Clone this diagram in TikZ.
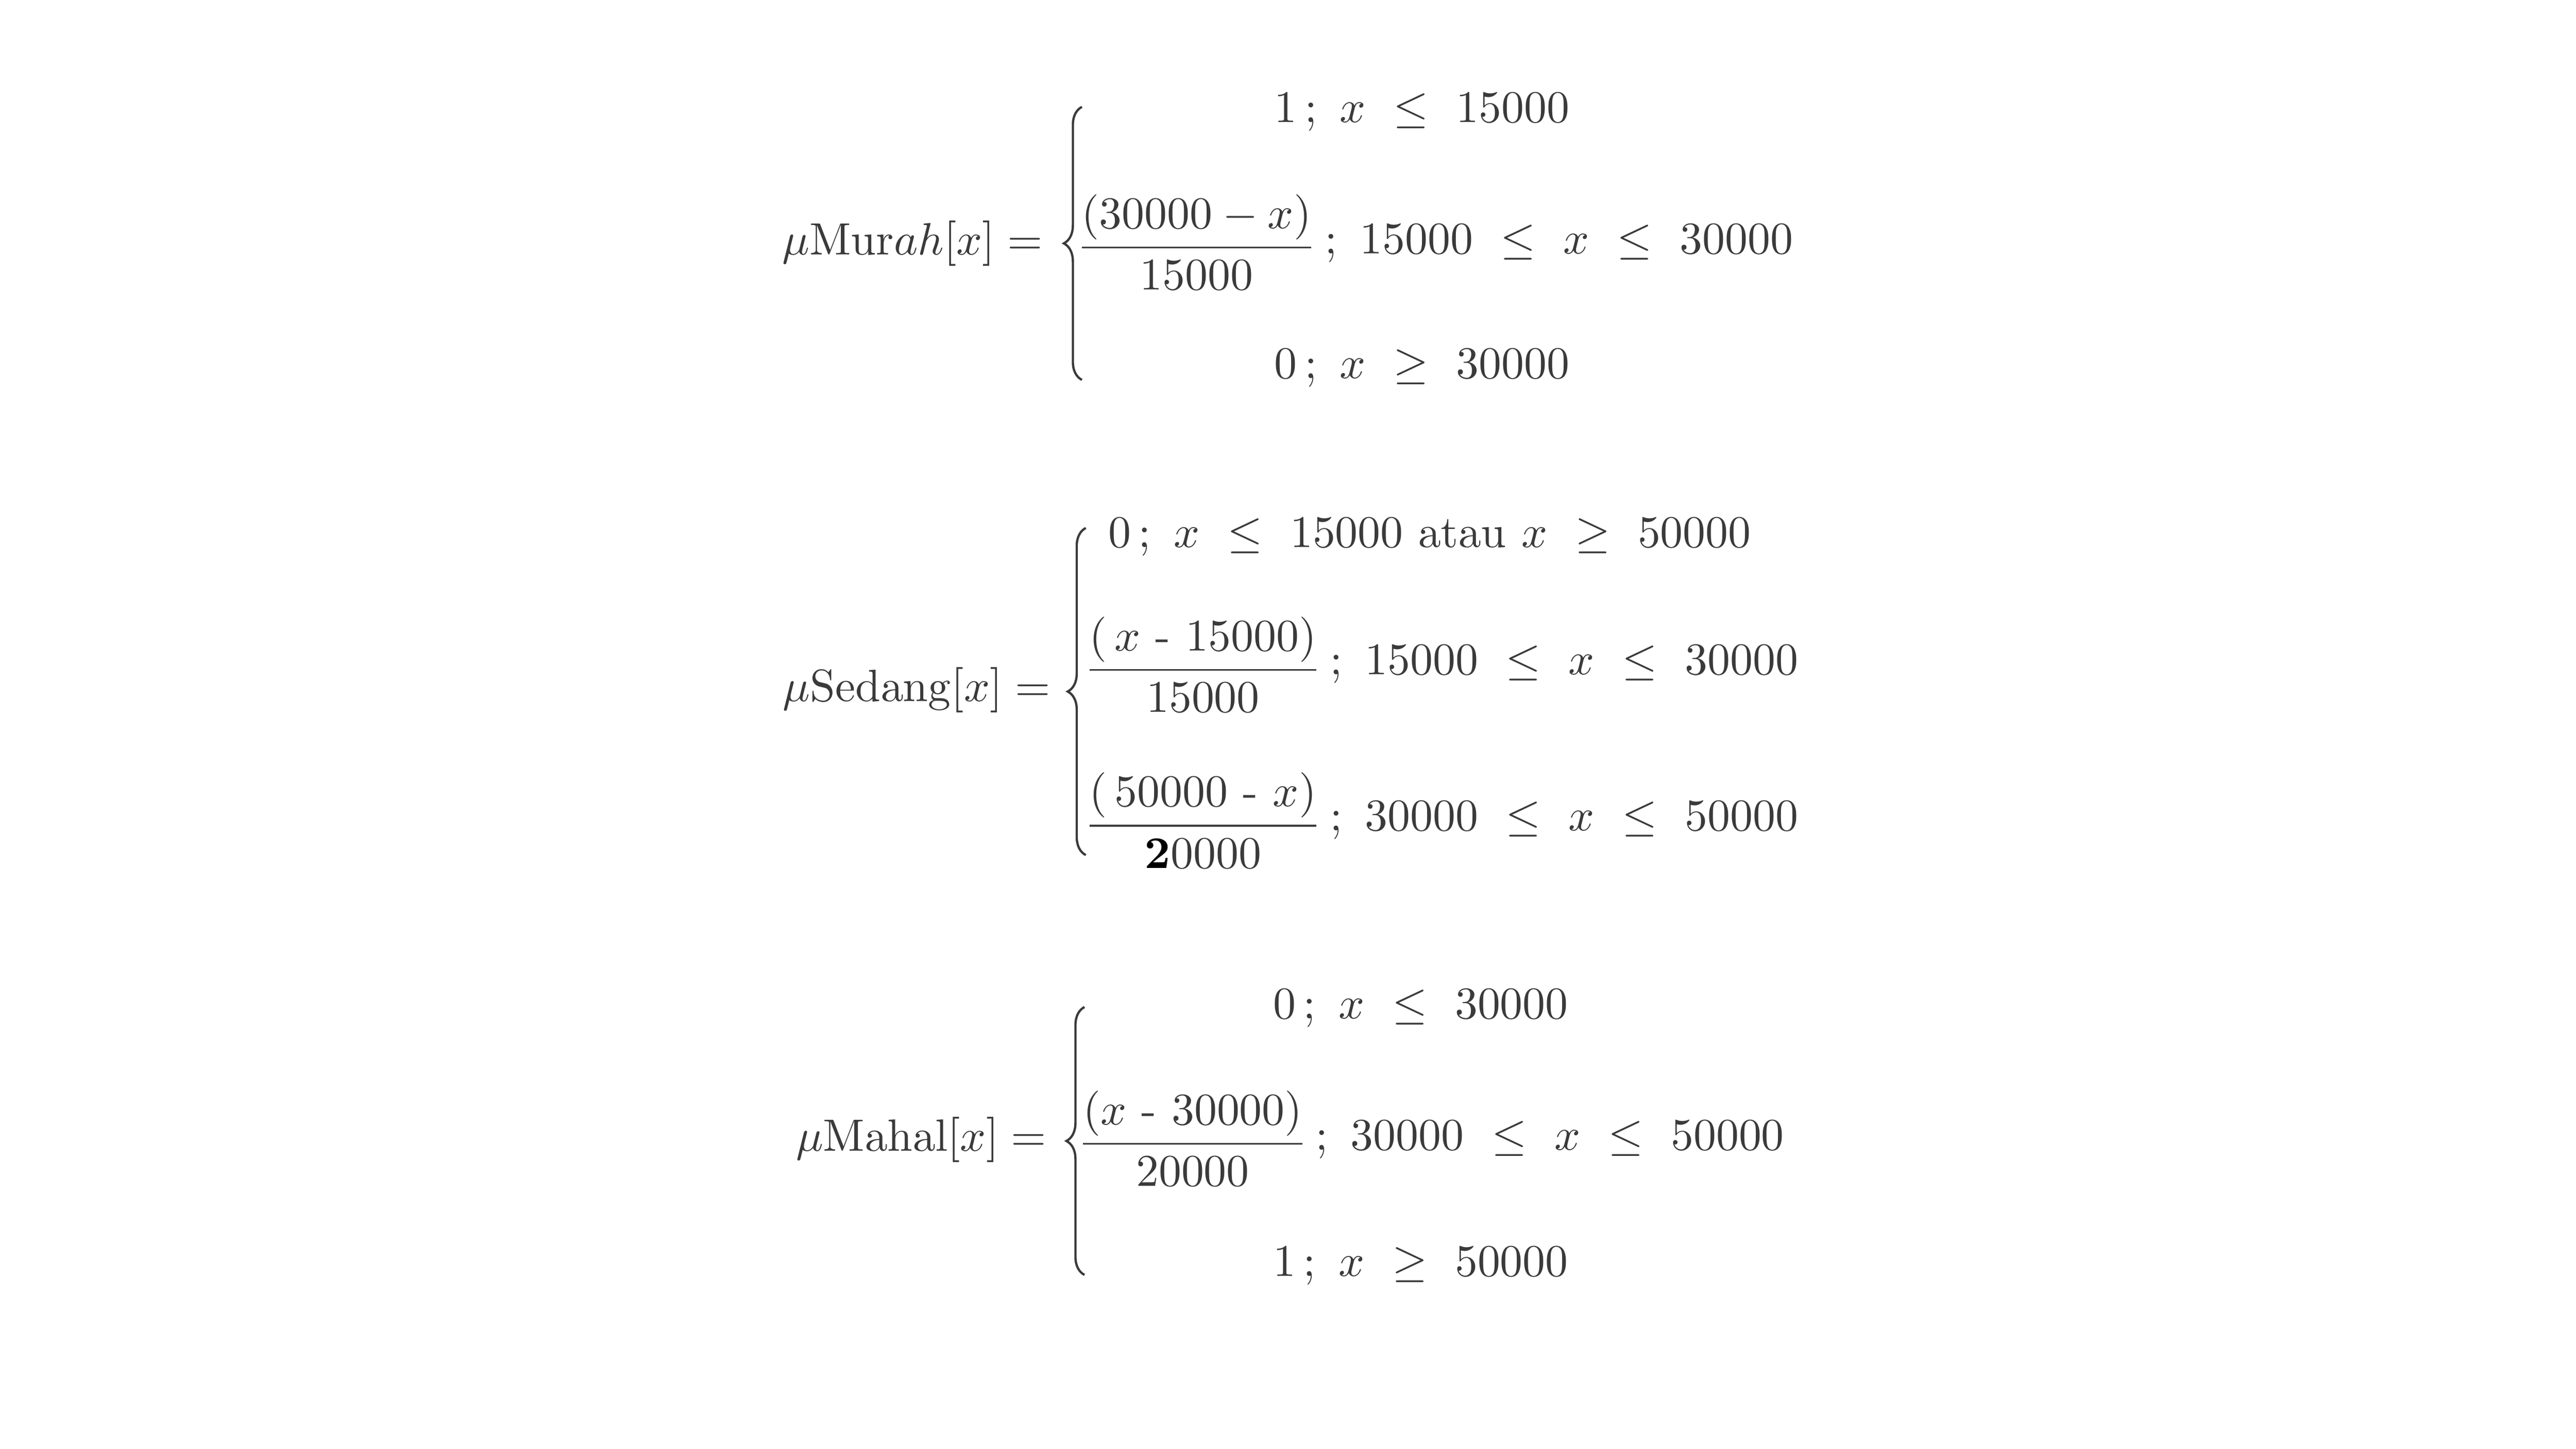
\documentclass[tikz,border=0pt]{standalone}
\usepackage{amsmath}
\usetikzlibrary{decorations.pathreplacing}
\definecolor{inkgray}{HTML}{3A3A3A}
\begin{document}
\begin{tikzpicture}[
                every node/.style={text=inkgray, inner sep=0.5pt},
                namenode/.style={anchor=east},
                rownode/.style={anchor=center},
                fracnode/.style={anchor=center},
                condnode/.style={anchor=west},
                casebrace/.style={draw=inkgray, line width=0.5pt, decorate,
                    decoration={brace, amplitude=4pt, aspect=0.5}}]
                \useasboundingbox (0,0) rectangle (20,11.25);
                % mu Murah
                \node[namenode] (murah) at (8.12,9.36) {$\mu\mathrm{Mur}ah[x] =$};
                \coordinate (murahtop) at (8.40,10.42);
                \coordinate (murahbot) at (8.40,8.30);
                \draw[casebrace] (murahbot) -- (murahtop);
                \node[rownode] (murahA) at (11.04,10.38) {$1\,;\ x\ \le\ 15000$};
                \node[fracnode] (murahB) at (9.29,9.37) {$\dfrac{(30000 - x)}{15000}$};
                \node[condnode] (murahBc) at (10.26,9.36) {$;\ 15000\ \le\ x\ \le\ 30000$};
                \node[rownode] (murahC) at (11.04,8.39) {$0\,;\ x\ \ge\ 30000$};
                % mu Sedang
                \node[namenode] (sedang) at (8.18,5.89) {$\mu\mathrm{Sedang}[x] =$};
                \coordinate (sedangtop) at (8.43,7.15);
                \coordinate (sedangbot) at (8.43,4.61);
                \draw[casebrace] (sedangbot) -- (sedangtop);
                \node[rownode] (sedangA) at (11.10,7.08)
                    {$0\,;\ x\ \le\ 15000\ \mathrm{atau}\ x\ \ge\ 50000$};
                \node[fracnode] (sedangB) at (9.34,6.09)
                    {$\dfrac{(\,x\ \text{-}\ 15000)}{15000}$};
                \node[condnode] (sedangBc) at (10.30,6.09) {$;\ 15000\ \le\ x\ \le\ 30000$};
                \node[fracnode] (sedangC) at (9.34,4.88)
                    {$\dfrac{(\,50000\ \text{-}\ x)}{{\color{black}\mathbf{2}}0000}$};
                \node[condnode] (sedangCc) at (10.30,4.88) {$;\ 30000\ \le\ x\ \le\ 50000$};
                % mu Mahal
                \node[namenode] (mahal) at (8.15,2.40) {$\mu\mathrm{Mahal}[x] =$};
                \coordinate (mahaltop) at (8.42,3.43);
                \coordinate (mahalbot) at (8.42,1.35);
                \draw[casebrace] (mahalbot) -- (mahaltop);
                \node[rownode] (mahalA) at (11.03,3.42) {$0\,;\ x\ \le\ 30000$};
                \node[fracnode] (mahalB) at (9.26,2.41) {$\dfrac{(x\ \text{-}\ 30000)}{20000}$};
                \node[condnode] (mahalBc) at (10.19,2.40) {$;\ 30000\ \le\ x\ \le\ 50000$};
                \node[rownode] (mahalC) at (11.03,1.42) {$1\,;\ x\ \ge\ 50000$};
            \end{tikzpicture}
\end{document}
